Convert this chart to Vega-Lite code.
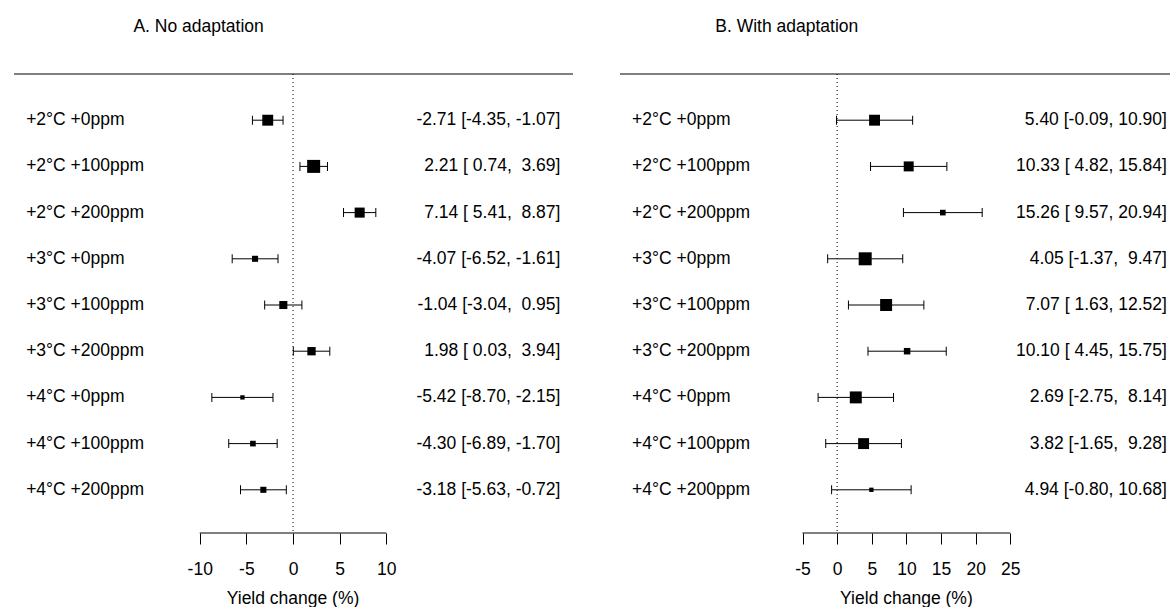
{
  "$schema": "https://vega.github.io/schema/vega-lite/v6.json",
  "padding": {"left": 13, "top": 18, "right": 0, "bottom": 0},
  "config": {
    "view": {"stroke": null},
    "font": "Liberation Sans",
    "text": {"font": "Liberation Sans", "fontSize": 17.5, "color": "black"}
  },
  "resolve": {"scale": {"x": "independent", "y": "independent"}},
  "spacing": 45,
  "datasets": {
    "noadapt": [
      {"row": 1, "label": "+2°C +0ppm", "est": -2.71, "lo": -4.35, "hi": -1.07, "w": 1.26, "ci": "-2.71 [-4.35, -1.07]"},
      {"row": 2, "label": "+2°C +100ppm", "est": 2.21, "lo": 0.74, "hi": 3.69, "w": 1.5, "ci": "2.21 [ 0.74, \u00a03.69]"},
      {"row": 3, "label": "+2°C +200ppm", "est": 7.14, "lo": 5.41, "hi": 8.87, "w": 1.16, "ci": "7.14 [ 5.41, \u00a08.87]"},
      {"row": 4, "label": "+3°C +0ppm", "est": -4.07, "lo": -6.52, "hi": -1.61, "w": 0.7, "ci": "-4.07 [-6.52, -1.61]"},
      {"row": 5, "label": "+3°C +100ppm", "est": -1.04, "lo": -3.04, "hi": 0.95, "w": 0.93, "ci": "-1.04 [-3.04, \u00a00.95]"},
      {"row": 6, "label": "+3°C +200ppm", "est": 1.98, "lo": 0.03, "hi": 3.94, "w": 0.96, "ci": "1.98 [ 0.03, \u00a03.94]"},
      {"row": 7, "label": "+4°C +0ppm", "est": -5.42, "lo": -8.70, "hi": -2.15, "w": 0.5, "ci": "-5.42 [-8.70, -2.15]"},
      {"row": 8, "label": "+4°C +100ppm", "est": -4.30, "lo": -6.89, "hi": -1.70, "w": 0.65, "ci": "-4.30 [-6.89, -1.70]"},
      {"row": 9, "label": "+4°C +200ppm", "est": -3.18, "lo": -5.63, "hi": -0.72, "w": 0.7, "ci": "-3.18 [-5.63, -0.72]"}
    ],
    "adapt": [
      {"row": 1, "label": "+2°C +0ppm", "est": 5.40, "lo": -0.09, "hi": 10.90, "w": 1.26, "ci": "5.40 [-0.09, 10.90]"},
      {"row": 2, "label": "+2°C +100ppm", "est": 10.33, "lo": 4.82, "hi": 15.84, "w": 1.15, "ci": "10.33 [ 4.82, 15.84]"},
      {"row": 3, "label": "+2°C +200ppm", "est": 15.26, "lo": 9.57, "hi": 20.94, "w": 0.65, "ci": "15.26 [ 9.57, 20.94]"},
      {"row": 4, "label": "+3°C +0ppm", "est": 4.05, "lo": -1.37, "hi": 9.47, "w": 1.5, "ci": "4.05 [-1.37, \u00a09.47]"},
      {"row": 5, "label": "+3°C +100ppm", "est": 7.07, "lo": 1.63, "hi": 12.52, "w": 1.38, "ci": "7.07 [ 1.63, 12.52]"},
      {"row": 6, "label": "+3°C +200ppm", "est": 10.10, "lo": 4.45, "hi": 15.75, "w": 0.75, "ci": "10.10 [ 4.45, 15.75]"},
      {"row": 7, "label": "+4°C +0ppm", "est": 2.69, "lo": -2.75, "hi": 8.14, "w": 1.38, "ci": "2.69 [-2.75, \u00a08.14]"},
      {"row": 8, "label": "+4°C +100ppm", "est": 3.82, "lo": -1.65, "hi": 9.28, "w": 1.26, "ci": "3.82 [-1.65, \u00a09.28]"},
      {"row": 9, "label": "+4°C +200ppm", "est": 4.94, "lo": -0.80, "hi": 10.68, "w": 0.5, "ci": "4.94 [-0.80, 10.68]"}
    ]
  },
  "hconcat": [
    {
      "width": 559,
      "height": 459,
      "layer": [
        {
          "data": {"values": [{}]},
          "mark": {"type": "rule", "color": "black", "strokeWidth": 1},
          "encoding": {
            "x": {"datum": -29.9, "type": "quantitative", "scale": {"domain": [-29.9, 30.0], "nice": false, "zero": false}},
            "x2": {"datum": 30.0},
            "y": {"datum": 0, "type": "quantitative", "scale": {"domain": [0, 9.935], "reverse": true, "nice": false, "zero": false}, "axis": null}
          }
        },
        {
          "data": {"values": [{}]},
          "mark": {"type": "rule", "color": "black", "strokeWidth": 1, "strokeDash": [1, 3]},
          "encoding": {
            "x": {"datum": 0, "type": "quantitative"},
            "y": {"datum": 0, "type": "quantitative"},
            "y2": {"datum": 9.935}
          }
        },
        {
          "data": {"values": [{}]},
          "mark": {"type": "rule", "color": "black", "strokeWidth": 1},
          "encoding": {
            "x": {"datum": -10, "type": "quantitative"},
            "x2": {"datum": 10},
            "y": {"datum": 9.935, "type": "quantitative"}
          }
        },
        {
          "data": {"values": [{}]},
          "mark": {"type": "text", "align": "left", "baseline": "middle"},
          "encoding": {
            "x": {"datum": -17.1, "type": "quantitative"},
            "y": {"datum": -1.017, "type": "quantitative"},
            "text": {"value": "A. No adaptation"}
          }
        },
        {
          "data": {"values": [{}]},
          "mark": {"type": "text", "align": "center", "baseline": "middle"},
          "encoding": {
            "x": {"datum": 0, "type": "quantitative"},
            "y": {"datum": 11.36, "type": "quantitative"},
            "text": {"value": "Yield change (%)"}
          }
        },
        {
          "data": {"name": "noadapt"},
          "mark": {"type": "rule", "color": "black", "strokeWidth": 1},
          "encoding": {
            "x": {"field": "lo", "type": "quantitative"},
            "x2": {"field": "hi"},
            "y": {"field": "row", "type": "quantitative"}
          }
        },
        {
          "data": {"name": "noadapt"},
          "mark": {"type": "tick", "orient": "vertical", "color": "black", "thickness": 1, "size": 9, "opacity": 1},
          "encoding": {
            "x": {"field": "lo", "type": "quantitative"},
            "y": {"field": "row", "type": "quantitative"}
          }
        },
        {
          "data": {"name": "noadapt"},
          "mark": {"type": "tick", "orient": "vertical", "color": "black", "thickness": 1, "size": 9, "opacity": 1},
          "encoding": {
            "x": {"field": "hi", "type": "quantitative"},
            "y": {"field": "row", "type": "quantitative"}
          }
        },
        {
          "data": {"name": "noadapt"},
          "mark": {"type": "point", "shape": "square", "filled": true, "color": "black", "opacity": 1, "strokeWidth": 0},
          "encoding": {
            "x": {
              "field": "est", "type": "quantitative",
              "axis": {"values": [-10, -5, 0, 5, 10], "labelExpr": "'' + datum.value", "domain": false, "grid": false, "ticks": true, "tickColor": "black", "tickSize": 11, "tickWidth": 1, "labelFontSize": 17.5, "labelFont": "Liberation Sans", "labelColor": "black", "labelPadding": 16, "title": null, "labelFlush": false, "labelOverlap": false}
            },
            "y": {"field": "row", "type": "quantitative"},
            "size": {"field": "w", "type": "quantitative", "scale": {"type": "pow", "exponent": 2, "domain": [0, 1.5], "range": [0, 169]}, "legend": null}
          }
        },
        {
          "data": {"name": "noadapt"},
          "mark": {"type": "text", "align": "left", "baseline": "middle"},
          "encoding": {
            "x": {"datum": -28.6, "type": "quantitative"},
            "y": {"field": "row", "type": "quantitative"},
            "text": {"field": "label"}
          }
        },
        {
          "data": {"name": "noadapt"},
          "mark": {"type": "text", "align": "right", "baseline": "middle"},
          "encoding": {
            "x": {"datum": 28.65, "type": "quantitative"},
            "y": {"field": "row", "type": "quantitative"},
            "text": {"field": "ci"}
          }
        }
      ]
    },
    {
      "width": 551,
      "height": 459,
      "layer": [
        {
          "data": {"values": [{}]},
          "mark": {"type": "rule", "color": "black", "strokeWidth": 1},
          "encoding": {
            "x": {"datum": -31.35, "type": "quantitative", "scale": {"domain": [-31.35, 48.2], "nice": false, "zero": false}},
            "x2": {"datum": 48.2},
            "y": {"datum": 0, "type": "quantitative", "scale": {"domain": [0, 9.935], "reverse": true, "nice": false, "zero": false}, "axis": null}
          }
        },
        {
          "data": {"values": [{}]},
          "mark": {"type": "rule", "color": "black", "strokeWidth": 1, "strokeDash": [1, 3]},
          "encoding": {
            "x": {"datum": 0, "type": "quantitative"},
            "y": {"datum": 0, "type": "quantitative"},
            "y2": {"datum": 9.935}
          }
        },
        {
          "data": {"values": [{}]},
          "mark": {"type": "rule", "color": "black", "strokeWidth": 1},
          "encoding": {
            "x": {"datum": -5, "type": "quantitative"},
            "x2": {"datum": 25},
            "y": {"datum": 9.935, "type": "quantitative"}
          }
        },
        {
          "data": {"values": [{}]},
          "mark": {"type": "text", "align": "left", "baseline": "middle"},
          "encoding": {
            "x": {"datum": -17.6, "type": "quantitative"},
            "y": {"datum": -1.017, "type": "quantitative"},
            "text": {"value": "B. With adaptation"}
          }
        },
        {
          "data": {"values": [{}]},
          "mark": {"type": "text", "align": "center", "baseline": "middle"},
          "encoding": {
            "x": {"datum": 10, "type": "quantitative"},
            "y": {"datum": 11.36, "type": "quantitative"},
            "text": {"value": "Yield change (%)"}
          }
        },
        {
          "data": {"name": "adapt"},
          "mark": {"type": "rule", "color": "black", "strokeWidth": 1},
          "encoding": {
            "x": {"field": "lo", "type": "quantitative"},
            "x2": {"field": "hi"},
            "y": {"field": "row", "type": "quantitative"}
          }
        },
        {
          "data": {"name": "adapt"},
          "mark": {"type": "tick", "orient": "vertical", "color": "black", "thickness": 1, "size": 9, "opacity": 1},
          "encoding": {
            "x": {"field": "lo", "type": "quantitative"},
            "y": {"field": "row", "type": "quantitative"}
          }
        },
        {
          "data": {"name": "adapt"},
          "mark": {"type": "tick", "orient": "vertical", "color": "black", "thickness": 1, "size": 9, "opacity": 1},
          "encoding": {
            "x": {"field": "hi", "type": "quantitative"},
            "y": {"field": "row", "type": "quantitative"}
          }
        },
        {
          "data": {"name": "adapt"},
          "mark": {"type": "point", "shape": "square", "filled": true, "color": "black", "opacity": 1, "strokeWidth": 0},
          "encoding": {
            "x": {
              "field": "est", "type": "quantitative",
              "axis": {"values": [-5, 0, 5, 10, 15, 20, 25], "labelExpr": "'' + datum.value", "domain": false, "grid": false, "ticks": true, "tickColor": "black", "tickSize": 11, "tickWidth": 1, "labelFontSize": 17.5, "labelFont": "Liberation Sans", "labelColor": "black", "labelPadding": 16, "title": null, "labelFlush": false, "labelOverlap": false}
            },
            "y": {"field": "row", "type": "quantitative"},
            "size": {"field": "w", "type": "quantitative", "scale": {"type": "pow", "exponent": 2, "domain": [0, 1.5], "range": [0, 169]}, "legend": null}
          }
        },
        {
          "data": {"name": "adapt"},
          "mark": {"type": "text", "align": "left", "baseline": "middle"},
          "encoding": {
            "x": {"datum": -29.6, "type": "quantitative"},
            "y": {"field": "row", "type": "quantitative"},
            "text": {"field": "label"}
          }
        },
        {
          "data": {"name": "adapt"},
          "mark": {"type": "text", "align": "right", "baseline": "middle"},
          "encoding": {
            "x": {"datum": 47.6, "type": "quantitative"},
            "y": {"field": "row", "type": "quantitative"},
            "text": {"field": "ci"}
          }
        }
      ]
    }
  ]
}
